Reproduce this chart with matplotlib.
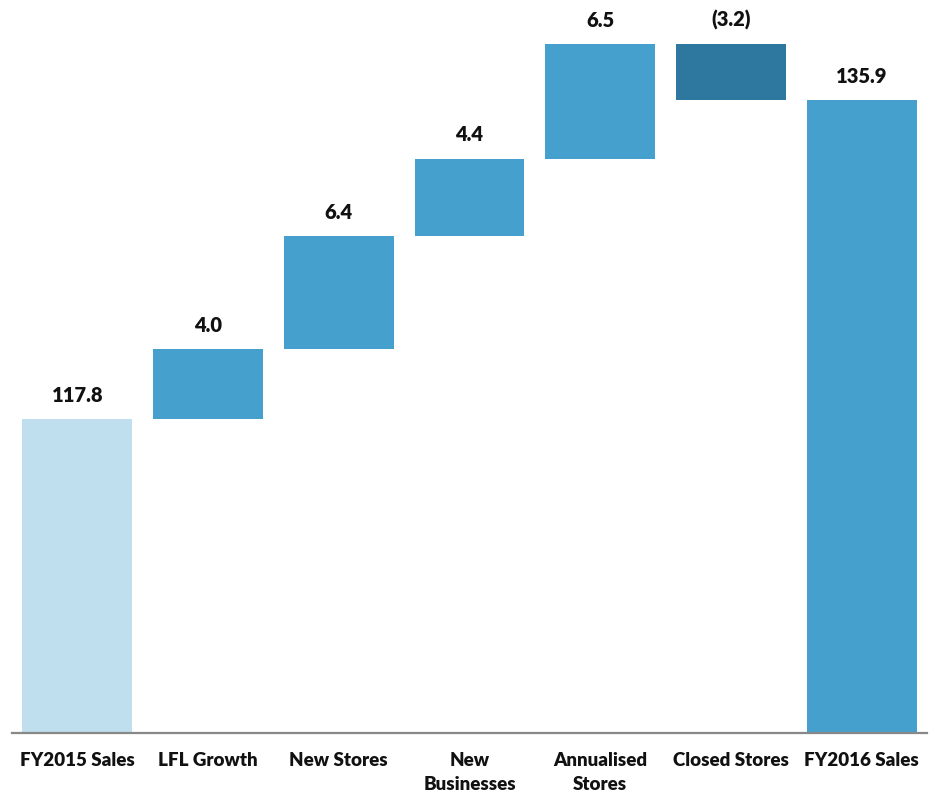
import matplotlib
matplotlib.use("Agg")
import matplotlib.pyplot as plt

# DATA
categories = ["FY2015 Sales", "LFL Growth", "New Stores", "New\nBusinesses",
              "Annualised\nStores", "Closed Stores", "FY2016 Sales"]
start_total = 117.8
changes = [4.0, 6.4, 4.4, 6.5, -3.2]
end_total = 135.9
labels = ["117.8", "4.0", "6.4", "4.4", "6.5", "(3.2)", "135.9"]

LIGHT, MID, DARK = "#BFDFEE", "#46A0CD", "#2E789F"
plt.rcParams['font.family'] = ['Lato', 'DejaVu Sans']

fig = plt.figure(figsize=(9.35, 7.95), dpi=100)
ax = fig.add_axes([12/935, 1 - 733/795, 915/935, 733/795])
base = 100.0

# waterfall bottoms/heights
bottoms, heights, colors = [base], [start_total - base], [LIGHT]
level = start_total
for c in changes:
    if c >= 0:
        bottoms.append(level); heights.append(c); colors.append(MID)
    else:
        bottoms.append(level + c); heights.append(-c); colors.append(DARK)
    level += c
bottoms.append(base); heights.append(end_total - base); colors.append(MID)

x = range(len(categories))
ax.bar(x, heights, bottom=bottoms, width=0.84, color=colors, zorder=2)
for i, (b, h, lab) in enumerate(zip(bottoms, heights, labels)):
    ax.text(i, b + h + 1.35, lab, ha='center', va='center', fontsize=14.5,
            fontweight='heavy', color='#111111')

ax.set_xlim(-0.5, len(categories) - 0.5)
ax.set_ylim(base, base + 733 / 17.62)
for s in ['top', 'right', 'left']:
    ax.spines[s].set_visible(False)
ax.spines['bottom'].set_color('#888888')
ax.spines['bottom'].set_linewidth(1.6)
ax.spines['bottom'].set_zorder(3)
ax.set_yticks([])
ax.set_xticks(list(x))
ax.set_xticklabels(categories, fontsize=13.5, fontweight='heavy', color='#111111',
                   linespacing=1.5, va='top')
ax.tick_params(axis='x', length=0, pad=14)

fig.savefig("out.png", dpi=100)
